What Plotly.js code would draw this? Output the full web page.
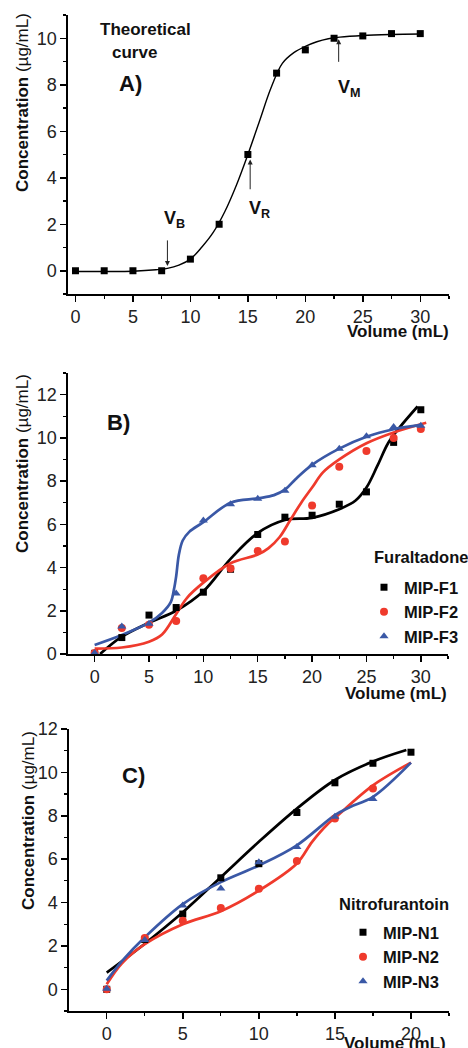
<!DOCTYPE html>
<html><head><meta charset="utf-8">
<script src="https://cdn.plot.ly/plotly-3.0.1.min.js"></script>
<style>html,body{margin:0;padding:0;background:#fff}#chart{width:468px;height:1048px}</style>
</head><body><div id="chart"></div>
<script>
// ---------- Panel A: theoretical curve ----------
const volA = [0, 2.5, 5, 7.5, 10, 12.5, 15, 17.5, 20, 22.5, 25, 27.5, 30];
const concA = [0, 0, 0, 0, 0.5, 2, 5, 8.5, 9.5, 10, 10.1, 10.2, 10.2];
const fitVolA = [0, 2.5, 5, 7, 8, 9, 10, 11, 12, 13, 14, 15, 16, 17, 18, 19, 20, 21, 22, 23, 25, 27.5, 30];
const fitConcA = [-0.03, -0.03, -0.02, 0.04, 0.1, 0.24, 0.5, 1.02, 1.66, 2.55, 3.68, 5.0, 6.42, 7.85, 8.92, 9.38, 9.65, 9.85, 9.98, 10.05, 10.12, 10.16, 10.18];
// arrows: [headX, headY, tailY]
const arrowVB = [8, 0.2, 1.67];
const arrowVR = [15.2, 4.78, 3.14];
const arrowVM = [22.9, 9.96, 8.62];

// ---------- Panel B: Furaltadone ----------
const volB = [0, 2.5, 5, 7.5, 10, 12.5, 15, 17.5, 20, 22.5, 25, 27.5, 30];
const mipF1 = [0.03, 0.76, 1.8, 2.15, 2.86, 3.92, 5.53, 6.33, 6.42, 6.93, 7.5, 9.79, 11.3];
const mipF2 = [0.05, 1.2, 1.35, 1.53, 3.5, 3.95, 4.77, 5.2, 6.87, 8.66, 9.39, 9.99, 10.41];
const mipF3 = [0.05, 1.27, 1.4, 2.8, 6.18, 6.93, 7.18, 7.55, 8.73, 9.5, 10.07, 10.5, 10.56];
const fitF1x = [0.5, 2.5, 5, 7.5, 10, 12.5, 15, 17.5, 20, 22.5, 24, 25, 26, 27, 28, 29.7];
const fitF1y = [0, 0.8, 1.45, 2.0, 2.9, 4.4, 5.6, 6.2, 6.3, 6.7, 7.1, 7.7, 8.7, 9.76, 10.45, 11.45];
const fitF2x = [0, 2.5, 5, 6.2, 7.5, 8.5, 10, 12.5, 15, 16, 17, 18, 19, 20, 21, 22.5, 25, 27.5, 30.5];
const fitF2y = [0.25, 0.3, 0.57, 0.9, 1.85, 2.6, 3.3, 4.2, 4.6, 4.9, 5.4, 6.2, 7.0, 7.7, 8.4, 9.0, 9.75, 10.25, 10.7];
const fitF3x = [0, 2.5, 5, 6.2, 7.0, 7.3, 7.5, 7.75, 8.1, 8.7, 10, 12.5, 15, 16.5, 17.5, 18.5, 20, 22.5, 25, 27.5, 30];
const fitF3y = [0.42, 0.88, 1.45, 1.9, 2.4, 3.0, 3.6, 4.6, 5.25, 5.65, 6.1, 7.0, 7.2, 7.35, 7.6, 8.1, 8.75, 9.5, 10.05, 10.4, 10.6];

// ---------- Panel C: Nitrofurantoin ----------
const volC = [0, 2.5, 5, 7.5, 10, 12.5, 15, 17.5, 20];
const mipN1 = [0, 2.3, 3.47, 5.14, 5.79, 8.15, 9.52, 10.42, 10.93];
const volC2 = [0, 2.5, 5, 7.5, 10, 12.5, 15, 17.5];
const mipN2 = [0, 2.36, 3.16, 3.75, 4.63, 5.91, 7.87, 9.26];
const mipN3 = [0.03, 2.27, 3.86, 4.65, 5.86, 6.56, 7.95, 8.77];
const fitN1x = [0, 2.5, 5, 7.5, 10, 12.5, 15, 17.5, 19.7];
const fitN1y = [0.77, 2.1, 3.55, 5.17, 6.8, 8.33, 9.65, 10.5, 11.03];
const fitN2x = [0, 1, 2.5, 5, 7.5, 10, 12.5, 13.5, 14.5, 15, 17.5, 20];
const fitN2y = [0.23, 1.2, 2.08, 3.0, 3.6, 4.55, 5.8, 6.8, 7.6, 7.9, 9.4, 10.45];
const fitN3x = [0, 1, 2.5, 5, 7.5, 10, 12.5, 15, 16, 17.5, 20];
const fitN3y = [0.4, 1.3, 2.4, 3.93, 4.94, 5.71, 6.64, 8.03, 8.4, 8.87, 10.45];

const BLACK = '#000000', RED = '#ef3a2c', BLUE = '#3a58a6';
const FONT = 'Arial, "Liberation Sans", sans-serif';
const W = 468, H = 1048;
const px = v => v / W, py = v => 1 - v / H;

function sc(x, y, color, symbol, name, xa, ya, legend, size) {
  return {x, y, type: 'scatter', mode: 'markers', name, xaxis: xa, yaxis: ya,
    legend: legend || 'legend', showlegend: !!name,
    marker: {color, symbol, size: size || 7, line: {width: 0}}};
}
function ln(x, y, color, w, xa, ya) {
  return {x, y, type: 'scatter', mode: 'lines', xaxis: xa, yaxis: ya, showlegend: false,
    line: {color, width: w, shape: 'spline', smoothing: 1}, hoverinfo: 'skip'};
}

const data = [
  ln(fitVolA, fitConcA, BLACK, 1.4, 'x', 'y'),
  sc(volA, concA, BLACK, 'square', null, 'x', 'y', null, 7),

  ln(fitF1x, fitF1y, BLACK, 2.7, 'x2', 'y2'),
  ln(fitF2x, fitF2y, RED, 2.7, 'x2', 'y2'),
  ln(fitF3x, fitF3y, BLUE, 2.7, 'x2', 'y2'),
  sc(volB, mipF1, BLACK, 'square', 'MIP-F1', 'x2', 'y2', 'legend', 7),
  sc(volB, mipF2, RED, 'circle', 'MIP-F2', 'x2', 'y2', 'legend', 8),
  sc(volB, mipF3, BLUE, 'triangle-up', 'MIP-F3', 'x2', 'y2', 'legend', 8),

  ln(fitN1x, fitN1y, BLACK, 2.7, 'x3', 'y3'),
  ln(fitN2x, fitN2y, RED, 2.7, 'x3', 'y3'),
  ln(fitN3x, fitN3y, BLUE, 2.7, 'x3', 'y3'),
  sc(volC, mipN1, BLACK, 'square', 'MIP-N1', 'x3', 'y3', 'legend2', 7),
  sc(volC2, mipN2, RED, 'circle', 'MIP-N2', 'x3', 'y3', 'legend2', 8),
  sc(volC2, mipN3, BLUE, 'triangle-up', 'MIP-N3', 'x3', 'y3', 'legend2', 8)
];

function axis(range, dtick, minor, domain, anchor) {
  return {range, dtick, tick0: 0, domain, anchor, showline: true, linewidth: 1.6, linecolor: '#000',
    ticks: 'outside', ticklen: 6, tickwidth: 1.5, tickcolor: '#000', showgrid: false, zeroline: false,
    tickfont: {family: FONT, size: 18, color: '#222'},
    minor: {dtick: minor, tick0: 0, ticks: 'outside', ticklen: 3.5, tickwidth: 1.3, tickcolor: '#000', showgrid: false},
    fixedrange: true};
}

const legFont = {family: FONT, size: 16.5, color: '#111', weight: 'bold'};
const layout = {
  width: W, height: H, margin: {l: 0, r: 0, t: 0, b: 0},
  paper_bgcolor: '#fff', plot_bgcolor: 'rgba(0,0,0,0)',
  font: {family: FONT, color: '#000'},
  xaxis: axis([-0.65, 32.5], 5, 2.5, [px(68), px(449)], 'y'),
  yaxis: axis([-1, 11], 2, 1, [py(294), py(15)], 'x'),
  xaxis2: axis([-2.45, 32.5], 5, 2.5, [px(68), px(448)], 'y2'),
  yaxis2: axis([0, 13], 2, 1, [py(654), py(373)], 'x2'),
  xaxis3: axis([-2.48, 22.5], 5, 2.5, [px(69), px(449)], 'y3'),
  yaxis3: axis([-1, 12], 2, 1, [py(1011), py(729)], 'x3'),
  legend: {x: px(364), y: py(570), xanchor: 'left', yanchor: 'top', bgcolor: 'rgba(0,0,0,0)',
    font: legFont, tracegroupgap: 0, itemclick: false},
  legend2: {x: px(343), y: py(915), xanchor: 'left', yanchor: 'top', bgcolor: 'rgba(0,0,0,0)',
    font: legFont, tracegroupgap: 0, itemclick: false},
  annotations: [],
  showlegend: true
};

function txt(text, x, y, size, opts) {
  return Object.assign({text, x: px(x), y: py(y), xref: 'paper', yref: 'paper', showarrow: false,
    font: {family: FONT, size, color: '#111'}, xanchor: 'center', yanchor: 'middle'}, opts || {});
}
const yTitle = '<b>Concentration</b> (µg/mL)';
layout.annotations.push(
  txt(yTitle, 22, 103, 17, {textangle: -90}),
  txt(yTitle, 22, 464, 17, {textangle: -90}),
  txt(yTitle, 28, 821, 17, {textangle: -90}),
  txt('<b>Volume (mL)</b>', 451, 332, 17, {xanchor: 'right'}),
  txt('<b>Volume (mL)</b>', 449, 693, 17, {xanchor: 'right'}),
  txt('<b>Volume (mL)</b>', 448, 1043, 17, {xanchor: 'right'}),
  txt('<b>Theoretical</b>', 145, 30, 17),
  txt('<b>curve</b>', 134, 52, 17),
  txt('<b>A)</b>', 130, 84, 22),
  txt('<b>B)</b>', 118, 422, 22),
  txt('<b>C)</b>', 133, 775, 22),
  txt('<b>V<sub>B</sub></b>', 174, 220, 18),
  txt('<b>V<sub>R</sub></b>', 259, 210, 18),
  txt('<b>V<sub>M</sub></b>', 349, 88, 18),
  txt('<b>Furaltadone</b>', 372, 557, 16.5, {xanchor: 'left'}),
  txt('<b>Nitrofurantoin</b>', 337, 904, 16.5, {xanchor: 'left'})
);
[arrowVB, arrowVR, arrowVM].forEach(a => {
  layout.annotations.push({x: a[0], y: a[1], ax: a[0], ay: a[2], xref: 'x', yref: 'y', axref: 'x', ayref: 'y',
    text: ' ', showarrow: true, arrowhead: 2, arrowsize: 1, arrowwidth: 1, arrowcolor: '#222', standoff: 0});
});

Plotly.newPlot('chart', data, layout, {displayModeBar: false, staticPlot: true});
</script></body></html>
